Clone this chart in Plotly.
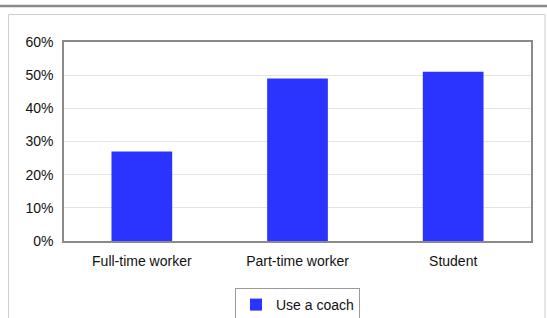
import plotly.graph_objects as go

categories = ["Full-time worker", "Part-time worker", "Student"]
use_coach = [0.27, 0.49, 0.51]
series_name = "Use a coach"
y_ticks = [0, 0.1, 0.2, 0.3, 0.4, 0.5, 0.6]
y_tick_labels = ["0%", "10%", "20%", "30%", "40%", "50%", "60%"]

W, H = 547, 318
L, R, T, B = 64, 531, 42, 241

def px(x):
    return (x - L) / (R - L)

def py(y):
    return (B - y) / (B - T)

font = dict(family="Liberation Sans, Arial, sans-serif", size=14, color="#111111")

fig = go.Figure()
fig.add_trace(go.Bar(
    x=categories, y=use_coach, name=series_name,
    marker=dict(color="#2b33ff", line=dict(width=0)),
    width=0.39,
))

fig.update_layout(
    width=W, height=H,
    margin=dict(l=L, r=W - R, t=T, b=H - B, autoexpand=False),
    paper_bgcolor="white", plot_bgcolor="white",
    font=font,
    showlegend=True,
    legend=dict(
        orientation="h", x=0.5, xanchor="center", y=py(288), yanchor="top",
        bordercolor="#9a9a9a", borderwidth=1, bgcolor="white",
        font=font, itemwidth=30,
    ),
    shapes=[
        dict(type="line", xref="paper", yref="paper",
             x0=px(0), x1=px(W), y0=py(6), y1=py(6),
             line=dict(color="#8a8a8a", width=2.5), layer="above"),
        dict(type="rect", xref="paper", yref="paper",
             x0=px(8.5), x1=px(545), y0=py(14.5), y1=py(340),
             line=dict(color="#cfcfcf", width=1), layer="below"),
    ],
)

fig.update_xaxes(
    showline=True, linecolor="#8a8a8a", linewidth=1.5, mirror=True,
    showgrid=False, ticks="", ticklabelstandoff=6, automargin=False,
    tickfont=font,
)
fig.update_yaxes(
    range=[0, 0.6], tickvals=y_ticks, ticktext=y_tick_labels,
    showline=True, linecolor="#8a8a8a", linewidth=1.5, mirror=True,
    showgrid=True, gridcolor="#e4e4e4", gridwidth=1,
    zeroline=False, ticks="", ticklabelstandoff=6, automargin=False,
    tickfont=font,
)

fig.write_html(
    "out.html",
    config={"displayModeBar": False},
    post_script="document.body.style.margin='0';document.body.style.overflow='hidden';",
)
